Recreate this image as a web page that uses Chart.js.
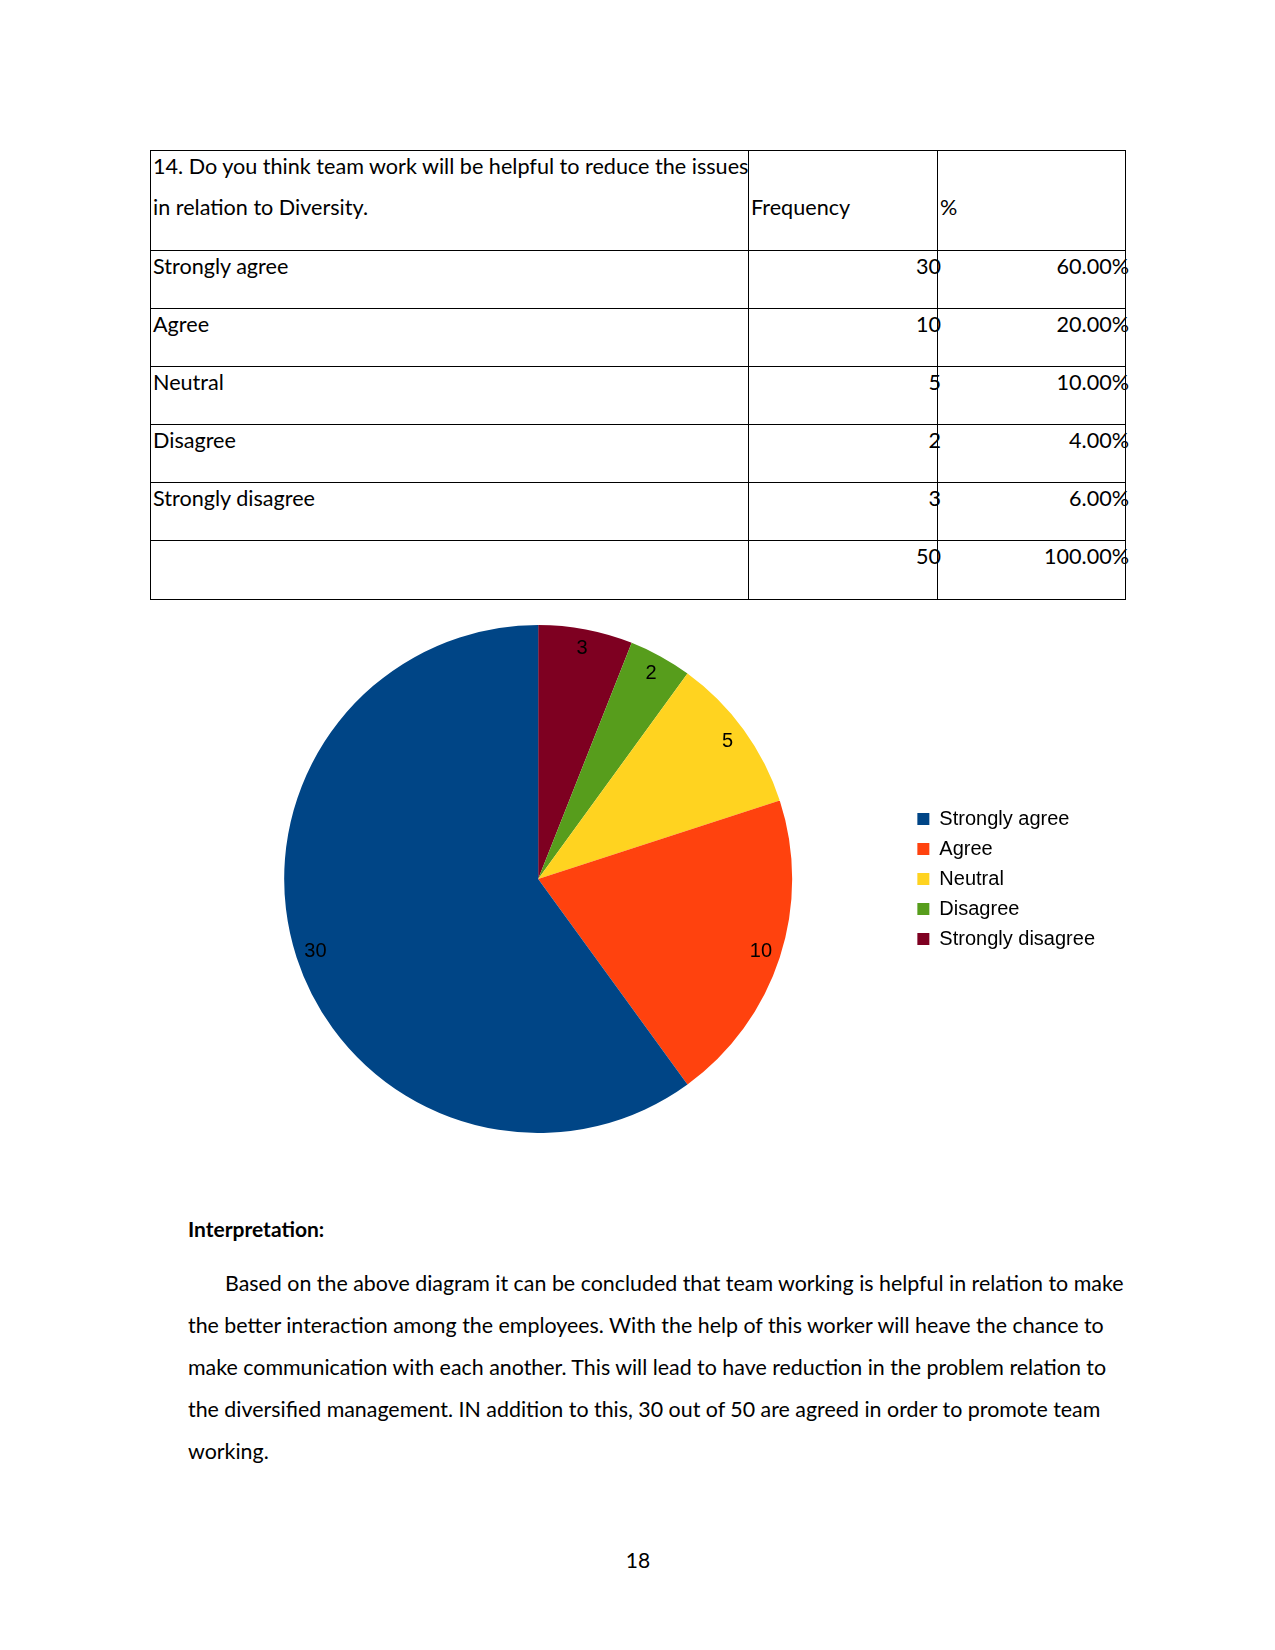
<!DOCTYPE html>
<html>
<head>
<meta charset="utf-8">
<script src="https://cdn.jsdelivr.net/npm/chart.js@4.4.0/dist/chart.umd.min.js"></script>
<style>
  html, body { margin: 0; padding: 0; background: #fff; }
  body { width: 1275px; height: 1650px; position: relative; font-family: Lato, "Open Sans", sans-serif; color: #000; }
  .abs { position: absolute; }
  table.survey { position: absolute; left: 150px; top: 150px; border-collapse: collapse; font-size: 21.6px; table-layout: fixed; }
  table.survey td { border: 1px solid #000; padding: 0; vertical-align: top; position: relative; }
  .c1 { width: 597px; }
  .c2 { width: 188px; }
  .c3 { width: 187px; }
  .cell { position: absolute; top: 2px; white-space: nowrap; }
  .num { position: absolute; top: 2px; right: -4px; white-space: nowrap; }
  #chart-wrap { position: absolute; left: 169px; top: 625px; width: 936px; height: 508px; }
  .para { position: absolute; left: 188px; width: 1000px; font-size: 21.4px; line-height: 42px; white-space: nowrap; }
</style>
</head>
<body>

<table class="survey" id="survey"></table>

<div id="chart-wrap"><canvas id="chart-pie"></canvas></div>

<div class="abs" style="left:188px;top:1216px;font-size:21px;font-weight:700">Interpretation:</div>
<div class="para" style="top:1262px">
  <span style="padding-left:37px"></span>Based on the above diagram it can be concluded that team working is helpful in relation to make<br>
  the better interaction among the employees. With the help of this worker will heave the chance to<br>
  make communication with each another. This will lead to have reduction in the problem relation to<br>
  the diversified management. IN addition to this, 30 out of 50 are agreed in order to promote team<br>
  working.
</div>
<div class="abs" style="left:0;width:1276px;top:1547px;text-align:center;font-size:21px">18</div>

<script>
const question   = ['14. Do you think team work will be helpful to reduce the issues', 'in relation to Diversity.']
const categories = ['Strongly agree', 'Agree', 'Neutral', 'Disagree', 'Strongly disagree']
const frequency  = [30, 10, 5, 2, 3]
const percent    = ['60.00%', '20.00%', '10.00%', '4.00%', '6.00%']
const total      = 50
const totalPct   = '100.00%'
const colors     = ['#004586', '#ff420e', '#ffd320', '#579d1c', '#7e0021']

// table
const tbl = document.getElementById('survey')
tbl.innerHTML = `
  <tr style="height:100px">
    <td class="c1"><span class="cell" style="left:2px;top:2px">${question[0]}</span><span class="cell" style="left:2px;top:43px">${question[1]}</span></td>
    <td class="c2"><span class="cell" style="left:2px;top:43px">Frequency</span></td>
    <td class="c3"><span class="cell" style="left:2px;top:43px">%</span></td>
  </tr>
  ${categories.map((c, i) => `
    <tr style="height:58px">
      <td class="c1"><span class="cell" style="left:2px">${c}</span></td>
      <td class="c2"><span class="num">${frequency[i]}</span></td>
      <td class="c3"><span class="num">${percent[i]}</span></td>
    </tr>`).join('')}
  <tr style="height:59px">
    <td class="c1"></td>
    <td class="c2"><span class="num">${total}</span></td>
    <td class="c3"><span class="num">${totalPct}</span></td>
  </tr>
`

// pie slices go counter-clockwise in the original, so feed them reversed
const revLabels = [...categories].reverse()
const revData   = [...frequency].reverse()
const revColors = [...colors].reverse()

const sliceLabels = {
  id: 'sliceLabels',
  afterDatasetsDraw(chart) {
    const { ctx } = chart
    const meta = chart.getDatasetMeta(0)
    ctx.save()
    ctx.font = '20px "Liberation Sans", Arial, sans-serif'
    ctx.fillStyle = '#000'
    ctx.textAlign = 'center'
    ctx.textBaseline = 'middle'
    meta.data.forEach((arc, i) => {
      const { x, y, startAngle, endAngle, outerRadius } = arc.getProps(['x', 'y', 'startAngle', 'endAngle', 'outerRadius'], true)
      const mid = (startAngle + endAngle) / 2
      const r = outerRadius * 0.922
      ctx.fillText(String(revData[i]), x + Math.cos(mid) * r, y + Math.sin(mid) * r)
    })
    ctx.restore()
  },
}

new Chart(document.getElementById('chart-pie'), {
  type: 'pie',
  data: {
    labels: revLabels,
    datasets: [{
      data:            revData,
      backgroundColor: revColors,
      borderWidth:     0,
    }],
  },
  options: {
    responsive: true, maintainAspectRatio: false,
    animation: false,
    layout: { padding: 0 },
    plugins: {
      tooltip: { enabled: false },
      legend: {
        position: 'right',
        reverse: true,
        labels: {
          boxWidth: 12, boxHeight: 12, padding: 10,
          color: '#000',
          font: { family: '"Liberation Sans", Arial, sans-serif', size: 20 },
        },
      },
    },
  },
  plugins: [sliceLabels],
})
</script>
</body>
</html>
